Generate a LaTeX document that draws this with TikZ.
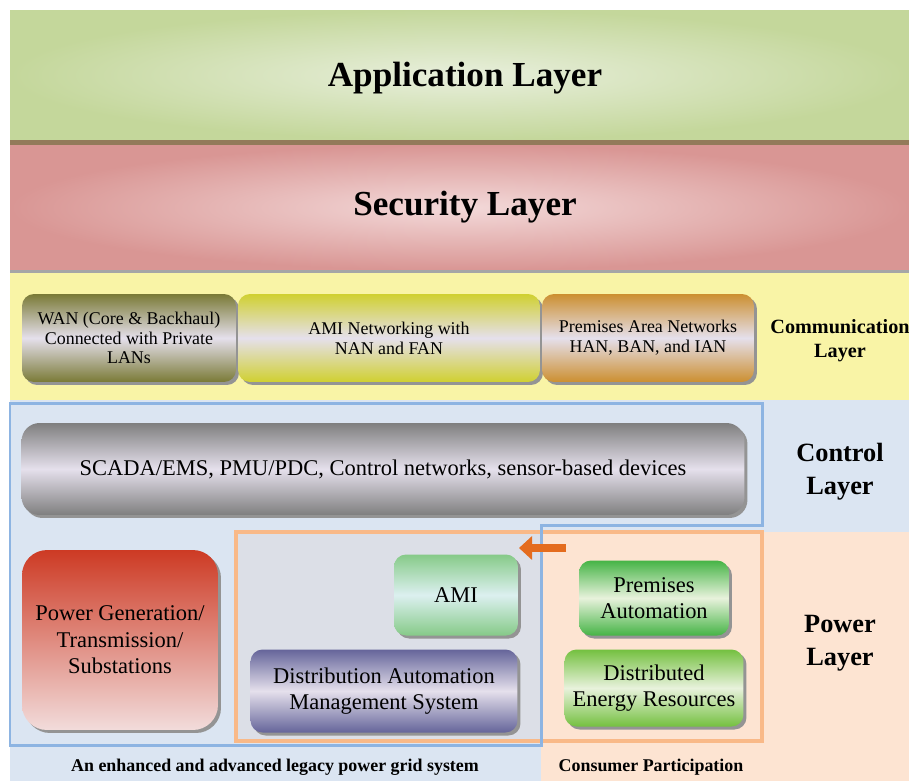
\documentclass[tikz,border=0pt]{standalone}
\usepackage{fontspec}
\setmainfont{Liberation Serif}
\usetikzlibrary{positioning,shadows,arrows.meta}

\definecolor{appouter}{HTML}{C4D79B}
\definecolor{appinner}{HTML}{E8EFDC}
\definecolor{secouter}{HTML}{D99694}
\definecolor{secinner}{HTML}{F3D9D9}
\definecolor{sepbrown}{HTML}{937A5A}
\definecolor{commyellow}{HTML}{F9F4A6}
\definecolor{ctrlblue}{HTML}{DBE5F2}
\definecolor{linkblue}{HTML}{8DB4E2}
\definecolor{peach}{HTML}{FDE4D2}
\definecolor{orangeline}{HTML}{F9B988}
\definecolor{graybox}{HTML}{DCDFE7}
\definecolor{lavender}{HTML}{E5E0EC}
\definecolor{olive}{HTML}{7A7A36}
\definecolor{lemon}{HTML}{D0D030}
\definecolor{amber}{HTML}{CC8F30}
\definecolor{scadagray}{HTML}{7F7F7F}
\definecolor{genred}{HTML}{CD3A24}
\definecolor{genpink}{HTML}{F2DCDB}
\definecolor{amigreen}{HTML}{86CA88}
\definecolor{amicyan}{HTML}{DCF0F0}
\definecolor{dapurple}{HTML}{65659A}
\definecolor{leafgreen}{HTML}{46B446}
\definecolor{limegreen}{HTML}{74C040}
\definecolor{palegreen}{HTML}{E8F2DC}
\definecolor{arroworange}{HTML}{E46C1E}

\tikzset{
  box/.style={rounded corners=0.24cm, align=center, inner sep=2pt,
    font=\fontsize{12.8}{15}\selectfont,
    drop shadow={shadow xshift=0.06cm, shadow yshift=-0.06cm, fill=black!42, opacity=1}},
  commbox/.style={box, font=\fontsize{10.2}{11.3}\selectfont},
  layertitle/.style={font=\bfseries\fontsize{20}{24}\selectfont},
  sidetitle/.style={align=center, font=\bfseries\fontsize{15}{18.7}\selectfont},
  caption/.style={font=\bfseries\fontsize{10.2}{12}\selectfont},
  flowarrow/.style={draw=arroworange, line width=0.16cm, -{Triangle[length=0.26cm, width=0.46cm]}}
}

\begin{document}
\begin{tikzpicture}[x=0.02cm, y=-0.02cm]
\useasboundingbox (0,0) rectangle (909,781);
  % draw layer bands
  \shade[inner color=appinner, outer color=appouter] (10,10) rectangle (909,140);
  \fill[sepbrown] (10,140) rectangle (909,145);
  \shade[inner color=secinner, outer color=secouter] (10,145) rectangle (909,270);
  \fill[black!35] (10,270) rectangle (909,273);
  \fill[commyellow] (10,273) rectangle (909,400);
  \fill[ctrlblue] (10,400) rectangle (909,532);
  \fill[ctrlblue] (10,532) rectangle (541,781);
  \fill[peach] (541,532) rectangle (909,781);
  \fill[graybox] (236,532) rectangle (541,741);
  % draw outlines
  \draw[orangeline, line width=0.07cm] (236,532) rectangle (762,741);
  \draw[linkblue, line width=0.06cm] (10,403) -- (762,403) -- (762,525)
        -- (541,525) -- (541,745) -- (10,745) -- cycle;
  % draw layer titles
  \node[layertitle] (applabel) at (465,78) {Application Layer};
  \node[layertitle] (seclabel) at (465,207) {Security Layer};
  \node[sidetitle, font=\bfseries\fontsize{11.5}{13.6}\selectfont] (commlabel) at (840,341)
        {Communication\\Layer};
  \node[sidetitle] (ctrllabel) at (840,472) {Control\\Layer};
  \node[sidetitle] (powerlabel) at (840,643) {Power\\Layer};
  % communication layer
  \node[commbox, minimum width=4.28cm, minimum height=1.76cm,
        top color=olive, bottom color=olive, middle color=lavender] (wan) at (129,338)
        {WAN (Core \& Backhaul)\\Connected with Private\\LANs};
  \node[commbox, minimum width=6.04cm, minimum height=1.76cm,
        top color=lemon, bottom color=lemon, middle color=lavender] (aminet) at (389,338)
        {AMI Networking with\\NAN and FAN};
  \node[commbox, minimum width=4.24cm, minimum height=1.76cm,
        top color=amber, bottom color=amber, middle color=lavender] (pan) at (648,338)
        {Premises Area Networks\\HAN, BAN, and IAN};
  % control layer
  \node[box, rounded corners=0.36cm, minimum width=14.46cm, minimum height=1.84cm,
        top color=scadagray, bottom color=scadagray, middle color=lavender] (scada) at (383,469)
        {SCADA/EMS, PMU/PDC, Control networks, sensor-based devices};
  % power layer
  \node[box, rounded corners=0.5cm, minimum width=3.92cm, minimum height=3.6cm,
        top color=genred, bottom color=genpink] (powergen) at (120,640)
        {Power Generation/\\Transmission/\\Substations};
  \node[box, minimum width=2.48cm, minimum height=1.62cm,
        top color=amigreen, bottom color=amigreen, middle color=amicyan] (ami) at (456,595)
        {AMI};
  \node[box, minimum width=5.34cm, minimum height=1.66cm,
        top color=dapurple, bottom color=dapurple, middle color=lavender] (dams) at (384,691)
        {Distribution Automation\\Management System};
  \node[box, minimum width=3cm, minimum height=1.5cm,
        top color=leafgreen, bottom color=leafgreen, middle color=palegreen] (premauto) at (654,598)
        {Premises\\Automation};
  \node[box, minimum width=3.58cm, minimum height=1.54cm,
        top color=limegreen, bottom color=limegreen, middle color=palegreen] (der) at (654,688)
        {Distributed\\Energy Resources};
  % draw arrow
  \coordinate (arrowtail) at (566,548);
  \coordinate (arrowtip) at (519,548);
  \draw[flowarrow] (arrowtail) -- (arrowtip);
  % draw captions
  \node[caption] (legacycap) at (275,767) {An enhanced and advanced legacy power grid system};
  \node[caption] (consumercap) at (651,767) {Consumer Participation};
\end{tikzpicture}
\end{document}
